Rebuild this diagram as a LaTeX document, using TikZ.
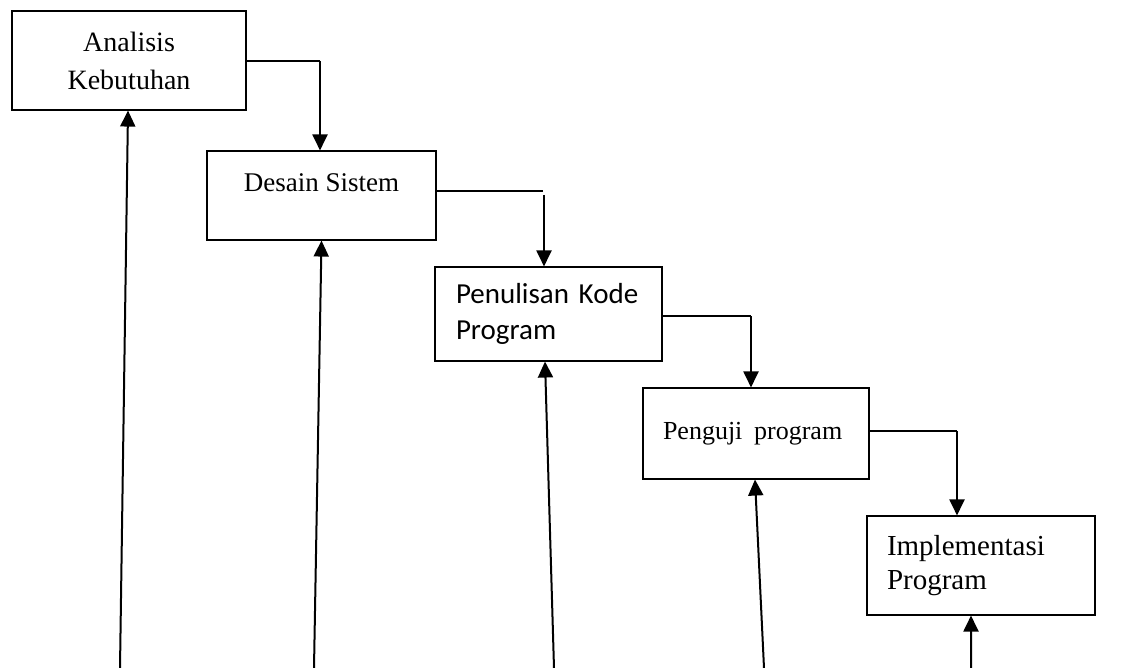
\documentclass[tikz,border=0pt]{standalone}
\usepackage{fontspec}
\setmainfont{Liberation Serif}
\newfontfamily\calib{Carlito}
\usetikzlibrary{arrows.meta}
\tikzset{
  box/.style={draw, line width=1.1bp, inner sep=0pt, anchor=center},
  link/.style={line width=1.2bp},
  down/.style={line width=2bp, -{Triangle[length=16bp,width=15bp]}},
  up/.style={line width=2bp, -{Triangle[length=16bp,width=15bp]}}
}
\begin{document}
\begin{tikzpicture}[x=1bp,y=-1bp]
\useasboundingbox (0,0) rectangle (1136,668);
% boxes
\node[box, minimum width=234bp, minimum height=99bp, align=center,
      font=\fontsize{28bp}{38bp}\selectfont] (b1) at (129,60.5) {Analisis\\Kebutuhan};
\node[box, minimum width=229bp, minimum height=89bp, text height=19bp, text depth=26bp,
      font=\fontsize{27bp}{33bp}\selectfont] (b2) at (321.5,195.5) {Desain Sistem};
\node[box, minimum width=227bp, minimum height=94bp, text width=185bp, inner xsep=21bp,
      align=left, font=\calib\fontsize{29bp}{36bp}\selectfont] (b3) at (548.5,314) {Penulisan Kode\\Program};
\node[box, minimum width=226bp, minimum height=91bp, text width=186bp, inner xsep=20bp,
      align=left, font=\fontsize{26bp}{32bp}\selectfont] (b4) at (756,433.5) {Penguji\hspace{0.45em}program};
\node[box, minimum width=228bp, minimum height=99bp, text width=188bp, inner xsep=20bp,
      align=left, font=\fontsize{29bp}{34bp}\selectfont] (b5) at (981,565.5) {Implementasi\\Program};
% elbow corners
\coordinate (k1) at (320,61);
\coordinate (k2) at (543,191);
\coordinate (k2b) at (544,195);
\coordinate (k3) at (751,316);
\coordinate (k4) at (957,431);
% forward connectors
\draw[link] (b1.east |- k1) -- (k1);
\draw[down] (k1) -- (k1 |- b2.north);
\draw[link] (b2.east |- k2) -- (k2);
\draw[down] (k2b) -- (k2b |- b3.north);
\draw[link] (b3.east |- k3) -- (k3);
\draw[down] (k3) -- (k3 |- b4.north);
\draw[link] (b4.east |- k4) -- (k4);
\draw[down] (k4) -- (k4 |- b5.north);
% feedback arrows from the bottom edge
\coordinate (f1) at (120,668);
\coordinate (f2) at (314,668);
\coordinate (f3) at (554,668);
\coordinate (f4) at (764,668);
\coordinate (f5) at (971,668);
\draw[up] (f1) -- ([xshift=-1bp]b1.south);
\draw[up] (f2) -- (b2.south);
\draw[up] (f3) -- ([xshift=-3.5bp]b3.south);
\draw[up] (f4) -- ([xshift=-1bp]b4.south);
\draw[up] (f5) -- ([xshift=-10bp]b5.south);
\end{tikzpicture}
\end{document}
